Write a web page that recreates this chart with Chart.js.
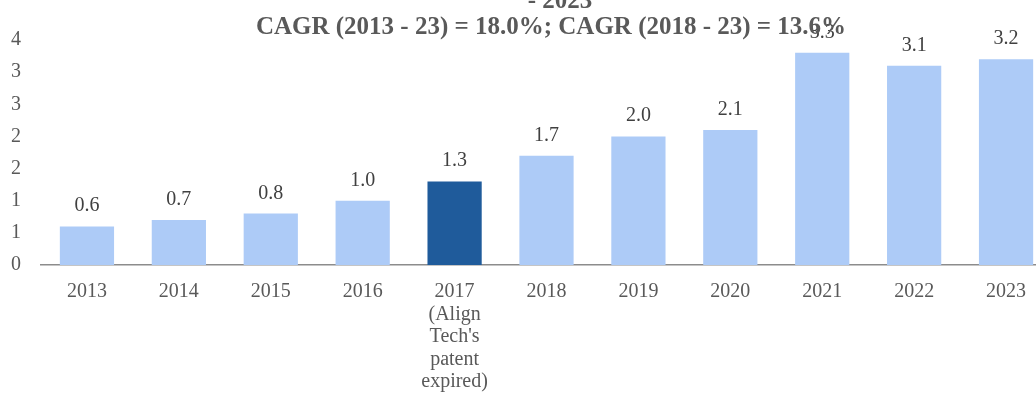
<!DOCTYPE html>
<html>
<head>
<meta charset="utf-8">
<script src="https://cdn.jsdelivr.net/npm/chart.js@4/dist/chart.umd.min.js"></script>
<style>
  html, body { margin: 0; padding: 0; background: #fff; overflow: hidden; }
  #wrap { width: 1052px; height: 398px; }
</style>
</head>
<body>
<div id="wrap"><canvas id="marketChart" width="1052" height="398"></canvas></div>
<script>
// market size, USD bn
const categories = ['2013', '2014', '2015', '2016', ['2017', '(Align', "Tech's", 'patent', 'expired)'],
  '2018', '2019', '2020', '2021', '2022', '2023'];
const values = [0.6, 0.7, 0.8, 1.0, 1.3, 1.7, 2.0, 2.1, 3.3, 3.1, 3.2];
const highlightIndex = 4;
const yTickLabels = ['0', '1', '1', '2', '2', '3', '3', '4'];
const titleLines = ['- 2023', 'CAGR (2013 - 23) = 18.0%; CAGR (2018 - 23) = 13.6%'];

const LIGHT = '#adcbf7';
const DARK = '#1f5b9b';
const TEXT = '#595959';
const SERIF = '"Liberation Serif", "Times New Roman", serif';

// value labels above each bar
const barLabels = {
  id: 'barLabels',
  afterDatasetsDraw(chart) {
    const ctx = chart.ctx;
    const meta = chart.getDatasetMeta(0);
    ctx.save();
    ctx.font = '20px ' + SERIF;
    ctx.fillStyle = '#404040';
    ctx.textAlign = 'center';
    ctx.textBaseline = 'alphabetic';
    meta.data.forEach((bar, i) => {
      ctx.fillText(values[i].toFixed(1), bar.x, bar.y - 15);
    });
    ctx.restore();
  }
};

// heading, drawn last so it sits over the plot
const heading = {
  id: 'heading',
  afterDraw(chart) {
    const ctx = chart.ctx;
    ctx.save();
    ctx.font = 'bold 25px ' + SERIF;
    ctx.fillStyle = TEXT;
    ctx.textAlign = 'center';
    ctx.textBaseline = 'alphabetic';
    ctx.fillText(titleLines[0], 560, 8);
    ctx.fillText(titleLines[1], 551, 34);
    ctx.restore();
  }
};

new Chart(document.getElementById('marketChart'), {
  type: 'bar',
  data: {
    labels: categories,
    datasets: [{
      data: values,
      backgroundColor: values.map((v, i) => i === highlightIndex ? DARK : LIGHT),
      borderWidth: 0,
      categoryPercentage: 1,
      barPercentage: 0.59
    }]
  },
  options: {
    responsive: false,
    animation: false,
    layout: { padding: { top: 40, left: 0, right: 0, bottom: 0 } },
    plugins: { legend: { display: false }, tooltip: { enabled: false }, title: { display: false } },
    scales: {
      x: {
        grid: { display: false, drawTicks: false },
        border: { display: true, color: '#8c8c8c', width: 1.5 },
        ticks: {
          color: TEXT,
          padding: 16,
          maxRotation: 0,
          autoSkip: false,
          font: { family: SERIF, size: 20, lineHeight: 1.12 }
        },
        afterFit(scale) { scale.height = 133; }
      },
      y: {
        min: 0,
        max: 3.5,
        grid: { display: false, drawTicks: false },
        border: { display: false },
        ticks: {
          stepSize: 0.5,
          color: TEXT,
          padding: 20,
          font: { family: SERIF, size: 20 },
          callback: (v, i) => yTickLabels[i]
        },
        afterFit(scale) { scale.width = 41; }
      }
    }
  },
  plugins: [barLabels, heading]
});
</script>
</body>
</html>
